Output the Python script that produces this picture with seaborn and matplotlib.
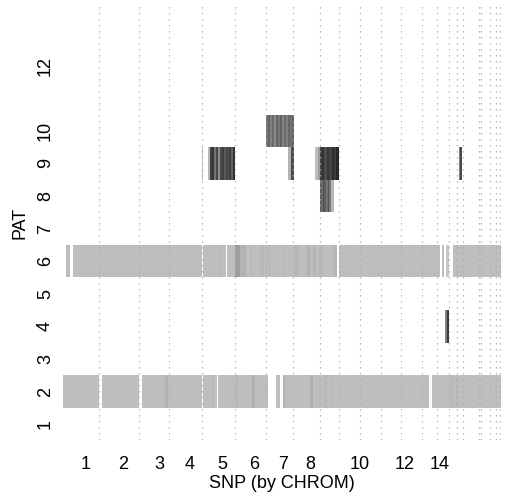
import numpy as np
import pandas as pd
import matplotlib
matplotlib.use("Agg")
import matplotlib.pyplot as plt
import seaborn as sns

plt.rcParams['font.family'] = ['Liberation Sans', 'DejaVu Sans']

# ---------------- data ----------------
N_SNP = 876                      # SNPs along the genome (ordered by chromosome)
N_PAT = 13                       # patients shown on the y axis
B = 0.745                        # base grey level of a called genotype

# chromosome boundaries (SNP index) drawn as dotted lines
CHROM_BREAKS = [72, 151, 211, 278, 343, 405, 459, 513, 551, 594, 635, 676,
                717, 747, 771, 787, 799, 832, 836, 853, 866, 874]
# chromosome label positions (SNP index) and labels
TICK_POS = [46, 121, 192, 254, 319, 382, 440, 495, 594, 683, 754]
TICK_LABELS = ["1", "2", "3", "4", "5", "6", "7", "8", "10", "12", "14"]
# patient tick labels
PAT_TICKS = [1, 2, 3, 4, 5, 6, 7, 8, 9, 10, 12]

# runs per patient: (start SNP, end SNP, grey value or list of grey values)
PAT2 = [(0, 72, B), (78, 151, B), (158, 204, B), (204, 210, 0.70), (210, 278, B),
        (280, 298, B), (298, 301, 0.72), (301, 307, B), (310, 346, B),
        (346, 349, 0.72), (349, 377, B), (377, 384, 0.69), (384, 410, B),
        (426, 434, B), (440, 446, 0.71), (446, 494, B), (494, 499, 0.69),
        (499, 522, B), (522, 527, 0.72), (527, 537, B), (537, 539, 0.72),
        (539, 732, B), (738, 776, B), (776, 779, 0.72), (779, 786, B),
        (786, 788, 0.72), (788, 876, B)]
PAT4 = [(764, 767, 0.50), (767, 772, 0.22)]
PAT6 = [(6, 14, B), (20, 278, B), (280, 311, B), (311, 315, 0.72), (315, 326, B),
        (328, 344, B), (344, 354, 0.62), (354, 366, 0.70), (366, 374, B),
        (374, 377, 0.72), (377, 394, B), (394, 401, 0.72), (401, 411, B),
        (411, 414, 0.71), (414, 440, B), (440, 444, 0.72), (444, 464, B),
        (464, 471, 0.71), (471, 488, B), (488, 494, 0.70), (494, 500, B),
        (500, 506, 0.71), (506, 512, B), (512, 519, 0.72), (519, 539, B),
        (539, 547, 0.71), (552, 754, B), (758, 762, B), (766, 772, 0.77),
        (780, 876, B)]
PAT8 = [(513, 535, [0.35, 0.42, 0.30, 0.38, 0.45, 0.33, 0.48]), (535, 541, 0.72)]
PAT9 = [(278, 280, 0.74), (290, 294, 0.72),
        (294, 344, [0.25, 0.22, 0.45, 0.28, 0.55, 0.30, 0.25, 0.35, 0.28,
                    0.32, 0.25, 0.38, 0.20]),
        (449, 455, 0.70), (455, 461, 0.30),
        (504, 509, 0.74), (509, 513, 0.62),
        (513, 551, [0.25, 0.20, 0.30, 0.22, 0.27, 0.18, 0.24, 0.15]),
        (791, 793, 0.50), (793, 797, 0.28)]
PAT10 = [(406, 461, [0.45, 0.40, 0.50, 0.42, 0.55, 0.40, 0.47, 0.38, 0.52,
                     0.42, 0.50, 0.40, 0.45, 0.38])]
ROWS = {2: PAT2, 4: PAT4, 6: PAT6, 8: PAT8, 9: PAT9, 10: PAT10}

# ---------------- build matrix ----------------
patients = list(range(N_PAT, 0, -1))          # top row = highest patient id
M = np.full((N_PAT, N_SNP), np.nan)
for pat, runs in ROWS.items():
    r = patients.index(pat)
    for s, e, v in runs:
        if isinstance(v, list):
            edges = np.linspace(s, e, len(v) + 1).round().astype(int)
            for a, b2, g in zip(edges[:-1], edges[1:], v):
                M[r, a:b2] = g
        else:
            M[r, s:e] = v
df = pd.DataFrame(M, index=patients)

# ---------------- plot ----------------
fig = plt.figure(figsize=(5.11, 4.99), dpi=100)
ax = fig.add_axes([63 / 511, (499 - 440.4) / 499, 438 / 511, 435.4 / 499])
sns.heatmap(df, ax=ax, cmap="gray", vmin=0, vmax=1, cbar=False,
            xticklabels=False, yticklabels=False, linewidths=0)
ax.set_xlim(0, N_SNP)
ax.set_ylim(N_PAT, N_PAT + 0.5 - 13.86)

for b in CHROM_BREAKS:
    ax.axvline(b, color="#A8A8A8", lw=0.9, ls=(0, (1, 3.8)), zorder=3)

FS = 13
ax.set_xticks(TICK_POS)
ax.set_xticklabels(TICK_LABELS, fontsize=FS)
ax.set_yticks([N_PAT + 0.5 - p for p in PAT_TICKS])
ax.set_yticklabels([str(p) for p in PAT_TICKS], fontsize=FS,
                   rotation=90, va="center")
ax.tick_params(axis="both", length=0, colors="#000000")
ax.tick_params(axis="x", pad=11)
ax.tick_params(axis="y", pad=6.5)
for sp in ax.spines.values():
    sp.set_visible(False)

ax.set_xlabel("SNP (by CHROM)", fontsize=FS, va="center")
ax.xaxis.set_label_coords(0.5, (440.4 - 484) / 435.4)
ax.set_ylabel("PAT", fontsize=FS, va="center")
ax.yaxis.set_label_coords((20 - 63) / 438, 0.5)

fig.savefig("out.png", dpi=100, facecolor="white")
